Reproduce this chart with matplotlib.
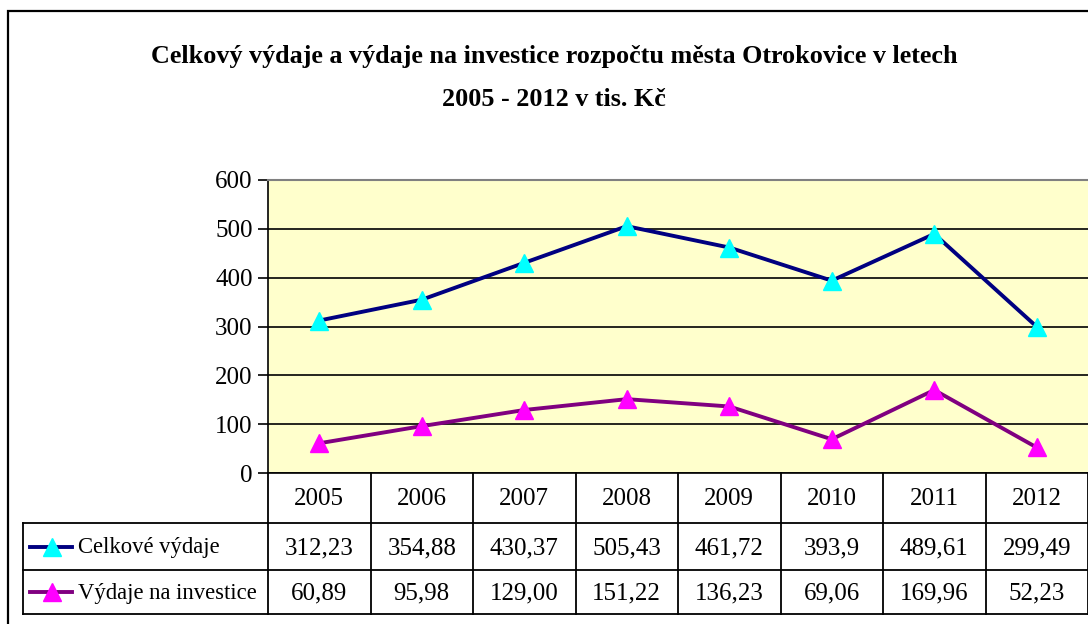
import matplotlib
matplotlib.use("Agg")
import matplotlib.pyplot as plt
from matplotlib.lines import Line2D
from matplotlib.patches import Rectangle
from matplotlib.transforms import blended_transform_factory

years = ["2005", "2006", "2007", "2008", "2009", "2010", "2011", "2012"]
celkove_labels = ["312,23", "354,88", "430,37", "505,43", "461,72", "393,9", "489,61", "299,49"]
investice_labels = ["60,89", "95,98", "129,00", "151,22", "136,23", "69,06", "169,96", "52,23"]
celkove = [float(s.replace(",", ".")) for s in celkove_labels]
investice = [float(s.replace(",", ".")) for s in investice_labels]
series_names = ["Celkové výdaje", "Výdaje na investice"]
yticks = [0, 100, 200, 300, 400, 500, 600]
title_lines = ["Celkový výdaje a výdaje na investice rozpočtu města Otrokovice v letech",
               "2005 - 2012 v tis. Kč"]

W, H = 1088, 624
FONT = "Liberation Serif"
plt.rcParams["font.family"] = [FONT, "DejaVu Serif"]

fig = plt.figure(figsize=(W / 100, H / 100), dpi=100)
fig.patch.set_facecolor("white")

def fx(px):
    return px / W

def fy(py):
    return 1 - py / H

# outer frame
fig.add_artist(Rectangle((fx(8), fy(640)), fx(1100) - fx(8), fy(11) - fy(640),
                         transform=fig.transFigure, fill=False, edgecolor="black", lw=1.6))

# title
fig.text(fx(554), fy(56), title_lines[0], ha="center", va="center", fontsize=18.8, fontweight="bold")
fig.text(fx(554), fy(99), title_lines[1], ha="center", va="center", fontsize=18.8, fontweight="bold")

L, R, T, B = 268, 1088, 180, 473
ax = fig.add_axes([fx(L), fy(B), fx(R) - fx(L), fy(T) - fy(B)])
ax.set_facecolor("#FFFFCC")
x = list(range(len(years)))
ax.set_xlim(-0.5, len(years) - 0.5)
ax.set_ylim(0, 600)
ax.set_yticks(yticks)
ax.set_yticklabels([str(v) for v in yticks], fontsize=18)
ax.set_xticks([])
ax.grid(axis="y", color="black", lw=1.2)
ax.set_axisbelow(True)
ax.spines["right"].set_visible(False)
ax.spines["top"].set_color("#808080")
ax.spines["top"].set_linewidth(1.5)
ax.spines["left"].set_linewidth(1.2)
ax.spines["bottom"].set_linewidth(1.2)
ax.tick_params(axis="y", length=7, width=1.2, pad=4, direction="out")

colors_line = ["#000080", "#800080"]
colors_mark = ["#00FFFF", "#FF00FF"]
for vals, lc, mc in zip([celkove, investice], colors_line, colors_mark):
    ax.plot(x, vals, color=lc, lw=2.8, zorder=3)
    ax.plot(x, vals, ls="none", marker="^", markersize=13, markerfacecolor=mc,
            markeredgecolor=mc, zorder=4, clip_on=False)

# data table
tr = blended_transform_factory(ax.transData, fig.transFigure)
colw = (R - L) / len(years)
left_x = -0.5 - (L - 23) / colw
right_x = len(years) - 0.5 + 0.2
y_head_top, y_head_bot, y_row1, y_row2 = B, 523, 570, 614

def hline(py, x0, x1):
    fig.add_artist(Line2D([x0, x1], [fy(py), fy(py)], transform=tr, color="black", lw=1.3))

def vline(xd, py0, py1):
    fig.add_artist(Line2D([xd, xd], [fy(py0), fy(py1)], transform=tr, color="black", lw=1.3))

hline(y_head_bot, left_x, right_x)
hline(y_row1, left_x, right_x)
hline(y_row2, left_x, right_x)
vline(left_x, y_head_bot, y_row2)
for i in range(len(years) + 1):
    vline(i - 0.5, y_head_top, y_row2)

for i, yr in enumerate(years):
    fig.text(i, fy(499), yr, transform=tr, ha="center", va="center", fontsize=18)
    fig.text(i, fy(548), celkove_labels[i], transform=tr, ha="center", va="center", fontsize=18)
    fig.text(i, fy(593), investice_labels[i], transform=tr, ha="center", va="center", fontsize=18)

rows_y = [547, 592]
for name, yy, lc, mc in zip(series_names, rows_y, colors_line, colors_mark):
    fig.add_artist(Line2D([fx(30), fx(72)], [fy(yy), fy(yy)], transform=fig.transFigure,
                          color=lc, lw=2.8))
    fig.add_artist(Line2D([fx(52)], [fy(yy)], transform=fig.transFigure, ls="none",
                          marker="^", markersize=13, markerfacecolor=mc, markeredgecolor=mc))
    fig.text(fx(78), fy(yy + 1), name, ha="left", va="center", fontsize=16.3)

fig.savefig("out.png", dpi=100)
